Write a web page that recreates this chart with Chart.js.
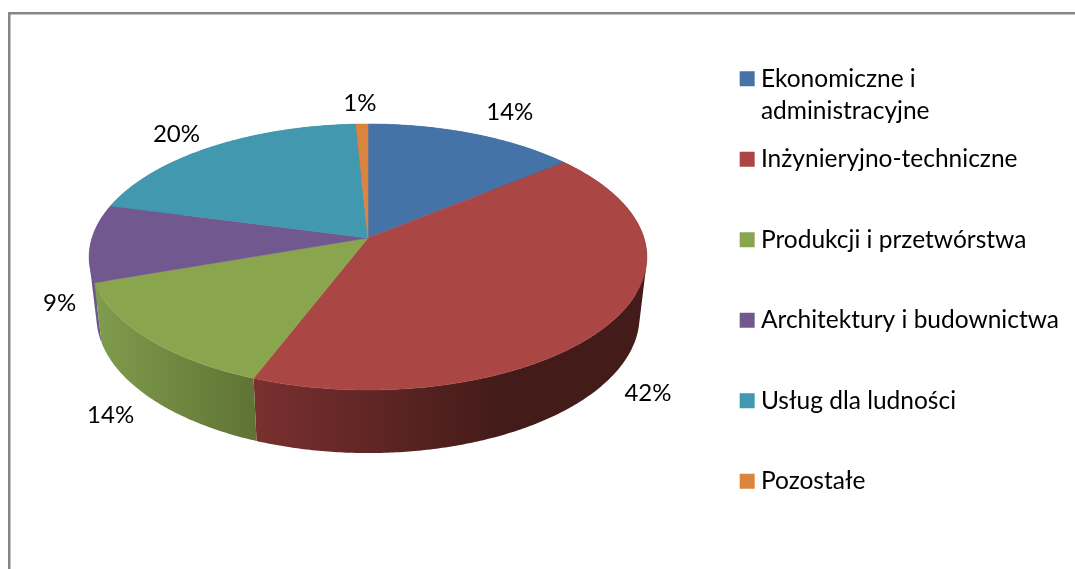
<!DOCTYPE html>
<html>
<head>
<meta charset="utf-8">
<title>Pie chart</title>
<script src="https://cdn.jsdelivr.net/npm/chart.js@4"></script>
<style>
  html, body { margin: 0; padding: 0; background: #fff; overflow: hidden; }
  #wrap { position: relative; width: 1075px; height: 569px; }
</style>
</head>
<body>
<div id="wrap"><canvas id="pieChart" width="1075" height="569"></canvas></div>
<script>
// Data
const categories = [
  "Ekonomiczne i administracyjne",
  "Inżynieryjno-techniczne",
  "Produkcji i przetwórstwa",
  "Architektury i budownictwa",
  "Usług dla ludności",
  "Pozostałe",
];
const legendLines = [
  ["Ekonomiczne i", "administracyjne"],
  ["Inżynieryjno-techniczne", ""],
  ["Produkcji i przetwórstwa", ""],
  ["Architektury i budownictwa", ""],
  ["Usług dla ludności", ""],
  ["Pozostałe", ""],
];
// slice sizes, the labels show them rounded
const shares = [14.1, 41.75, 13.85, 9.4, 20.1, 0.8];
const sliceColors = ["#4572A7", "#AA4643", "#89A54E", "#71588F", "#4198AF", "#DB843D"];
const wallColors = [
  ["#34567e", "#34567e"],
  ["#7a302f", "#431b19"],
  ["#809c4d", "#5f7334"],
  ["#6b5688", "#6b5688"],
  ["#31728a", "#31728a"],
  ["#a5632e", "#a5632e"],
];
// how far along the wall its shading stops
const wallReach = [1, 0.63, 1, 1, 1, 1];
const labelNudges = [[37, -21], [36, 72], [-37, 77], [-31, 60], [-35, -13], [-2, -21]];

const FONT = "Lato, sans-serif";

// perspective of the tilted pie, a circle seen from above
const view = {
  cx: 368, cy: 238, rx: 276, ry: 130.3, persp: 1 / 7,
  bottomCy: 296.5, bottomScaleX: 0.974, bottomScaleY: 1.03,
};

function project(angle, bottom) {
  const u = Math.cos(angle);
  const v = Math.sin(angle);
  const d = 1 - view.persp * v;
  return {
    x: view.cx + ((bottom ? view.bottomScaleX : 1) * view.rx * u) / d,
    y: (bottom ? view.bottomCy : view.cy) + ((bottom ? view.bottomScaleY : 1) * view.ry * v) / d,
  };
}

function edgePoints(start, end, bottom) {
  const pts = [];
  const steps = Math.max(2, Math.ceil((end - start) / 0.01));
  for (let i = 0; i <= steps; i++) {
    pts.push(project(start + ((end - start) * i) / steps, bottom));
  }
  return pts;
}

function tracePath(ctx, pts) {
  pts.forEach((p, i) => (i ? ctx.lineTo(p.x, p.y) : ctx.moveTo(p.x, p.y)));
  ctx.closePath();
}

function paint(ctx, fill) {
  ctx.fillStyle = fill;
  ctx.strokeStyle = fill;
  ctx.lineWidth = 0.5;
  ctx.fill();
  ctx.stroke();
}

function signedArea(pts) {
  let a = 0;
  pts.forEach((p, i) => {
    const q = pts[(i + 1) % pts.length];
    a += p.x * q.y - q.x * p.y;
  });
  return a;
}

const pie3d = {
  id: "pie3d",
  beforeDraw(chart) {
    const ctx = chart.ctx;
    ctx.save();
    ctx.fillStyle = "#fff";
    ctx.fillRect(0, 0, chart.width, chart.height);
    ctx.fillStyle = "#868686";
    ctx.fillRect(8, 12, 2.5, chart.height - 12);
    ctx.fillRect(8, 12, chart.width - 8, 2.5);
    ctx.restore();
  },
  // replaces the flat arcs, angles still come from the arc elements
  beforeDatasetsDraw(chart) {
    const ctx = chart.ctx;
    const arcs = chart.getDatasetMeta(0).data;
    ctx.save();
    const walls = arcs.map((arc, i) => ({ arc, i }));
    // far side first
    walls.sort((a, b) => Math.sin((a.arc.startAngle + a.arc.endAngle) / 2) - Math.sin((b.arc.startAngle + b.arc.endAngle) / 2));
    walls.forEach(({ arc, i }) => {
      const top = edgePoints(arc.startAngle, arc.endAngle, false);
      const bottom = edgePoints(arc.startAngle, arc.endAngle, true);
      const xs = top.concat(bottom).map((p) => p.x);
      const left = Math.min(...xs);
      const right = left + (Math.max(...xs) - left) * wallReach[i];
      const g = ctx.createLinearGradient(left, 0, right, 0);
      g.addColorStop(0, wallColors[i][0]);
      g.addColorStop(1, wallColors[i][1]);
      // all quads in one path, same winding, so the silhouette closes without seams
      ctx.beginPath();
      for (let k = 0; k < top.length - 1; k++) {
        const quad = [top[k], top[k + 1], bottom[k + 1], bottom[k]];
        tracePath(ctx, signedArea(quad) < 0 ? quad.reverse() : quad);
      }
      ctx.fillStyle = g;
      ctx.fill();
    });
    arcs.forEach((arc, i) => {
      const pts = edgePoints(arc.startAngle, arc.endAngle, false);
      pts.unshift({ x: view.cx, y: view.cy });
      ctx.beginPath();
      tracePath(ctx, pts);
      paint(ctx, sliceColors[i]);
    });
    ctx.restore();
    return false;
  },
  afterDraw(chart) {
    const ctx = chart.ctx;
    const arcs = chart.getDatasetMeta(0).data;
    ctx.save();
    ctx.font = "24px " + FONT;
    ctx.fillStyle = "#000";
    ctx.textAlign = "center";
    ctx.textBaseline = "middle";
    arcs.forEach((arc, i) => {
      const p = project((arc.startAngle + arc.endAngle) / 2, false);
      ctx.fillText(Math.round(shares[i]) + "%", p.x + labelNudges[i][0], p.y + labelNudges[i][1]);
    });
    ctx.restore();
  },
};

new Chart(document.getElementById("pieChart").getContext("2d"), {
  type: "pie",
  data: {
    labels: categories,
    datasets: [{ data: shares, backgroundColor: sliceColors, borderWidth: 0 }],
  },
  options: {
    responsive: false,
    animation: false,
    layout: { padding: { top: 50, right: 6, bottom: 0, left: 0 } },
    plugins: {
      tooltip: { enabled: false },
      legend: {
        position: "right",
        align: "start",
        labels: {
          color: "#000",
          font: { family: FONT, size: 24.5, lineHeight: 32 / 24.5 },
          boxWidth: 3,
          boxHeight: 3,
          padding: 16.5,
          generateLabels: () =>
            legendLines.map((text, i) => ({
              text,
              fillStyle: sliceColors[i],
              strokeStyle: sliceColors[i],
              lineWidth: 12,
              index: i,
            })),
        },
      },
    },
  },
  plugins: [pie3d],
});
</script>
</body>
</html>
